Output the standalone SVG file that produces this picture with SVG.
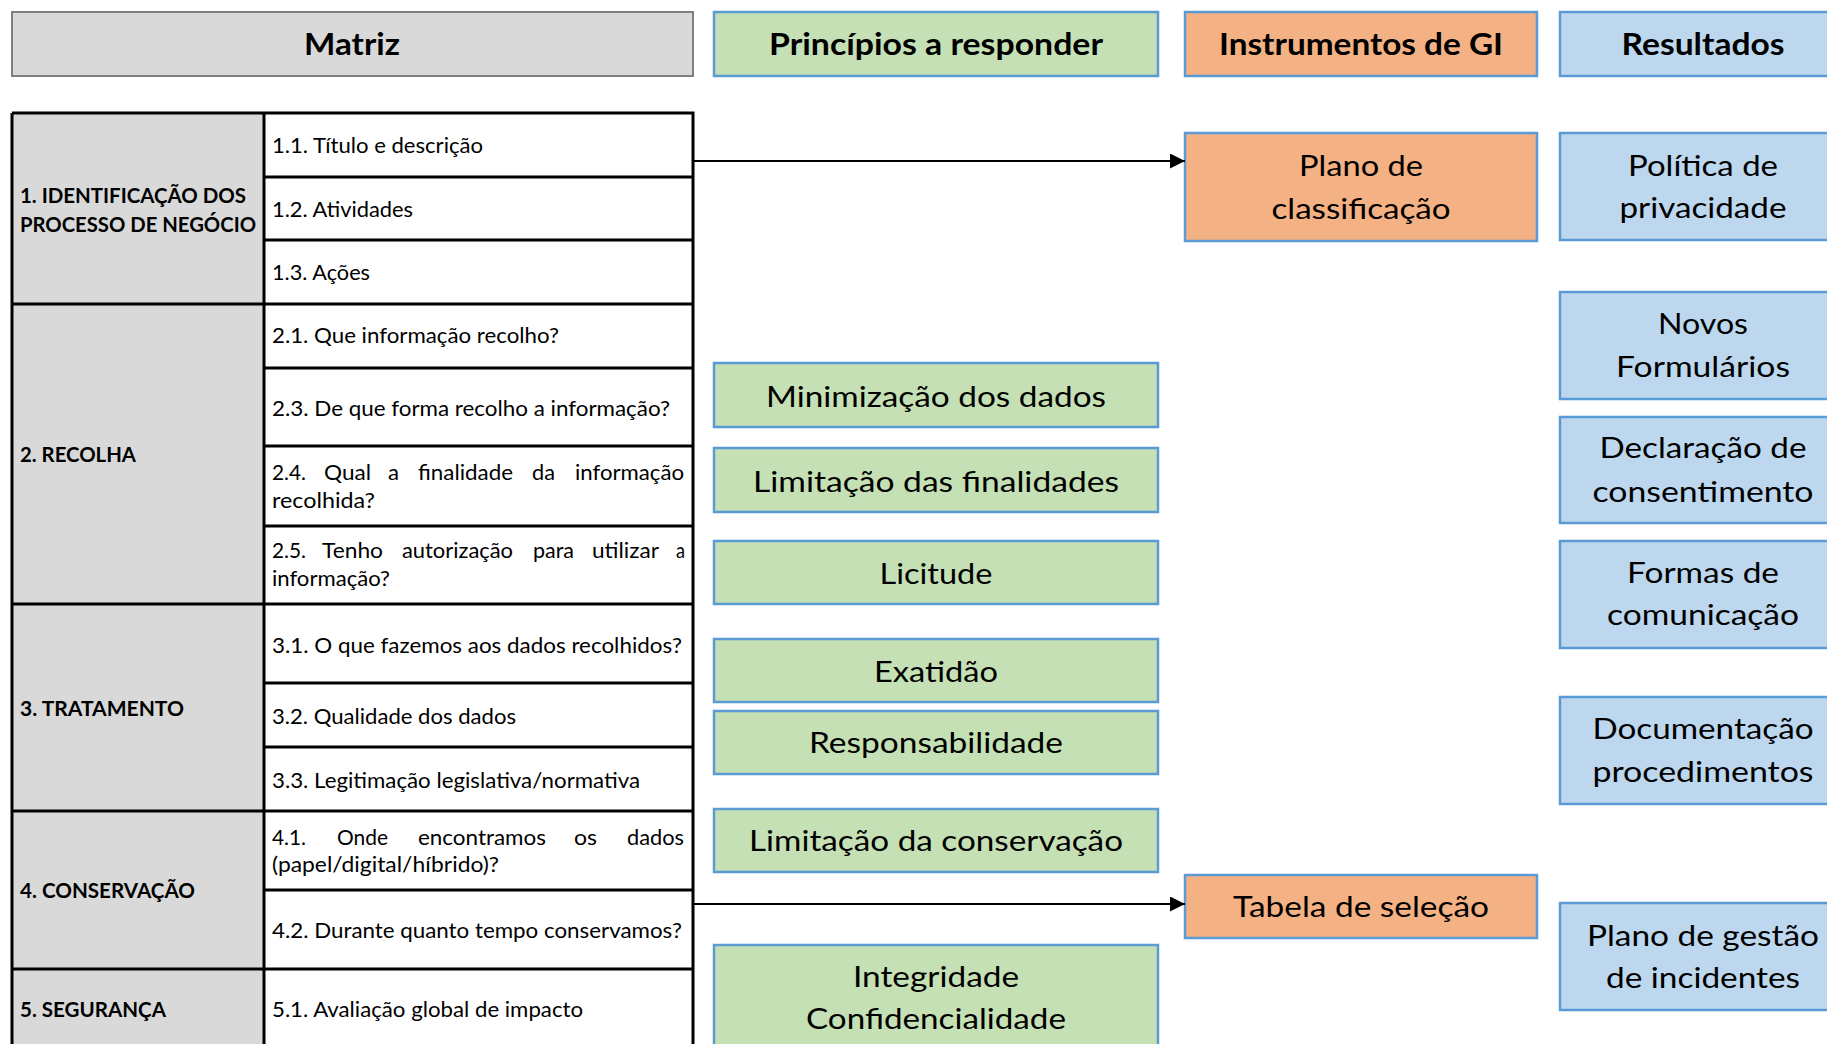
<svg xmlns="http://www.w3.org/2000/svg" width="1827" height="1044" viewBox="0 0 1827 1044">
<defs>
<style>
text{font-family:Lato,"Liberation Sans",sans-serif;fill:#000}
.h{font-weight:700;font-size:31px;text-anchor:middle}
.l{font-size:28px;text-anchor:middle}
.c{font-size:21px}
.s{font-size:20px;font-weight:700}
.gray{fill:#d9d9d9;stroke:#7f7f7f;stroke-width:2}
.green{fill:#c5e0b4;stroke:#5b9bd5;stroke-width:2.5}
.orange{fill:#f4b183;stroke:#5b9bd5;stroke-width:2.5}
.blue{fill:#bdd7ee;stroke:#5b9bd5;stroke-width:2.5}
.tl{stroke:#000;stroke-width:3;fill:none}
.conn{stroke:#000;stroke-width:2;fill:none}
</style>
<marker id="arr" viewBox="0 0 10 10" refX="10" refY="5" markerUnits="userSpaceOnUse" markerWidth="15" markerHeight="15" orient="auto">
<path d="M0,0 L10,5 L0,10 z" fill="#000"/>
</marker>
</defs>
<rect width="1827" height="1044" fill="#fff"/>

<!-- headers -->
<g id="hdr-matriz"><rect class="gray" x="12" y="12" width="681" height="64"/><text class="h" x="352" y="55" textLength="96" lengthAdjust="spacingAndGlyphs">Matriz</text></g>
<g id="hdr-principios"><rect class="green" x="714" y="12" width="444" height="64"/><text class="h" x="936" y="55" textLength="334" lengthAdjust="spacingAndGlyphs">Princípios a responder</text></g>
<g id="hdr-instrumentos"><rect class="orange" x="1185" y="12" width="352" height="64"/><text class="h" x="1361" y="55" textLength="284" lengthAdjust="spacingAndGlyphs">Instrumentos de GI</text></g>
<g id="hdr-resultados"><rect class="blue" x="1560" y="12" width="290" height="64"/><text class="h" x="1703" y="55" textLength="163" lengthAdjust="spacingAndGlyphs">Resultados</text></g>

<!-- table -->
<g id="matriz-table">
<rect x="12" y="113" width="252" height="950" fill="#d9d9d9"/>
<rect x="264" y="113" width="429" height="950" fill="#fff"/>
<g id="sec1">
<text class="s" x="20" y="203" textLength="226" lengthAdjust="spacingAndGlyphs">1. IDENTIFICAÇÃO DOS</text>
<text class="s" x="20" y="232" textLength="236" lengthAdjust="spacingAndGlyphs">PROCESSO DE NEGÓCIO</text>
<text class="c" x="272" y="153" textLength="211" lengthAdjust="spacingAndGlyphs">1.1. Título e descrição</text>
<text class="c" x="272" y="217" textLength="141" lengthAdjust="spacingAndGlyphs">1.2. Atividades</text>
<text class="c" x="272" y="280" textLength="98" lengthAdjust="spacingAndGlyphs">1.3. Ações</text>
</g>
<g id="sec2">
<text class="s" x="20" y="462" textLength="116" lengthAdjust="spacingAndGlyphs">2. RECOLHA</text>
<text class="c" x="272" y="343" textLength="287" lengthAdjust="spacingAndGlyphs">2.1. Que informação recolho?</text>
<text class="c" x="272" y="416" textLength="398" lengthAdjust="spacingAndGlyphs">2.3. De que forma recolho a informação?</text>
<text class="c" x="272" y="480" textLength="34" lengthAdjust="spacingAndGlyphs">2.4.</text>
<text class="c" x="324" y="480" textLength="47" lengthAdjust="spacingAndGlyphs">Qual</text>
<text class="c" x="388" y="480" textLength="11" lengthAdjust="spacingAndGlyphs">a</text>
<text class="c" x="418" y="480" textLength="95" lengthAdjust="spacingAndGlyphs">finalidade</text>
<text class="c" x="532" y="480" textLength="23" lengthAdjust="spacingAndGlyphs">da</text>
<text class="c" x="575" y="480" textLength="109" lengthAdjust="spacingAndGlyphs">informação</text>
<text class="c" x="272" y="508" textLength="103" lengthAdjust="spacingAndGlyphs">recolhida?</text>
<text class="c" x="272" y="558" textLength="34" lengthAdjust="spacingAndGlyphs">2.5.</text>
<text class="c" x="322" y="558" textLength="61" lengthAdjust="spacingAndGlyphs">Tenho</text>
<text class="c" x="402" y="558" textLength="111" lengthAdjust="spacingAndGlyphs">autorização</text>
<text class="c" x="533" y="558" textLength="41" lengthAdjust="spacingAndGlyphs">para</text>
<text class="c" x="592" y="558" textLength="67" lengthAdjust="spacingAndGlyphs">utilizar</text>
<text class="c" x="676" y="558" textLength="9" lengthAdjust="spacingAndGlyphs">a</text>
<text class="c" x="272" y="586" textLength="118" lengthAdjust="spacingAndGlyphs">informação?</text>
</g>
<g id="sec3">
<text class="s" x="20" y="716" textLength="164" lengthAdjust="spacingAndGlyphs">3. TRATAMENTO</text>
<text class="c" x="272" y="653" textLength="410" lengthAdjust="spacingAndGlyphs">3.1. O que fazemos aos dados recolhidos?</text>
<text class="c" x="272" y="724" textLength="244" lengthAdjust="spacingAndGlyphs">3.2. Qualidade dos dados</text>
<text class="c" x="272" y="788" textLength="368" lengthAdjust="spacingAndGlyphs">3.3. Legitimação legislativa/normativa</text>
</g>
<g id="sec4">
<text class="s" x="20" y="898" textLength="175" lengthAdjust="spacingAndGlyphs">4. CONSERVAÇÃO</text>
<text class="c" x="272" y="845" textLength="34" lengthAdjust="spacingAndGlyphs">4.1.</text>
<text class="c" x="337" y="845" textLength="51" lengthAdjust="spacingAndGlyphs">Onde</text>
<text class="c" x="418" y="845" textLength="128" lengthAdjust="spacingAndGlyphs">encontramos</text>
<text class="c" x="574" y="845" textLength="23" lengthAdjust="spacingAndGlyphs">os</text>
<text class="c" x="627" y="845" textLength="57" lengthAdjust="spacingAndGlyphs">dados</text>
<text class="c" x="272" y="872" textLength="227" lengthAdjust="spacingAndGlyphs">(papel/digital/híbrido)?</text>
<text class="c" x="272" y="938" textLength="410" lengthAdjust="spacingAndGlyphs">4.2. Durante quanto tempo conservamos?</text>
</g>
<g id="sec5">
<text class="s" x="20" y="1017" textLength="146" lengthAdjust="spacingAndGlyphs">5. SEGURANÇA</text>
<text class="c" x="272" y="1017" textLength="311" lengthAdjust="spacingAndGlyphs">5.1. Avaliação global de impacto</text>
</g>
<path class="tl" d="M12,113 H693 V1063 M12,113 V1063 M264,113 V1063 M12,304 H693 M12,604 H693 M12,811 H693 M12,969 H693 M264,177 H693 M264,240 H693 M264,368 H693 M264,446 H693 M264,526 H693 M264,683 H693 M264,747 H693 M264,890 H693"/>
</g>

<!-- principles -->
<g id="p-minimizacao"><rect class="green" x="714" y="363" width="444" height="64"/><text class="l" x="936" y="407" textLength="340" lengthAdjust="spacingAndGlyphs">Minimização dos dados</text></g>
<g id="p-finalidades"><rect class="green" x="714" y="448" width="444" height="64"/><text class="l" x="936" y="492" textLength="366" lengthAdjust="spacingAndGlyphs">Limitação das finalidades</text></g>
<g id="p-licitude"><rect class="green" x="714" y="541" width="444" height="63"/><text class="l" x="936" y="584" textLength="113" lengthAdjust="spacingAndGlyphs">Licitude</text></g>
<g id="p-exatidao"><rect class="green" x="714" y="639" width="444" height="63"/><text class="l" x="936" y="682" textLength="124" lengthAdjust="spacingAndGlyphs">Exatidão</text></g>
<g id="p-responsabilidade"><rect class="green" x="714" y="711" width="444" height="63"/><text class="l" x="936" y="753" textLength="254" lengthAdjust="spacingAndGlyphs">Responsabilidade</text></g>
<g id="p-conservacao"><rect class="green" x="714" y="809" width="444" height="63"/><text class="l" x="936" y="851" textLength="374" lengthAdjust="spacingAndGlyphs">Limitação da conservação</text></g>
<g id="p-integridade"><rect class="green" x="714" y="945" width="444" height="110"/><text class="l" x="936" y="987" textLength="166" lengthAdjust="spacingAndGlyphs">Integridade</text><text class="l" x="936" y="1029" textLength="260" lengthAdjust="spacingAndGlyphs">Confidencialidade</text></g>

<!-- instruments -->
<g id="i-plano"><rect class="orange" x="1185" y="133" width="352" height="108"/><text class="l" x="1361" y="176" textLength="124" lengthAdjust="spacingAndGlyphs">Plano de</text><text class="l" x="1361" y="219" textLength="179" lengthAdjust="spacingAndGlyphs">classificação</text></g>
<g id="i-tabela"><rect class="orange" x="1185" y="875" width="352" height="63"/><text class="l" x="1361" y="917" textLength="256" lengthAdjust="spacingAndGlyphs">Tabela de seleção</text></g>

<!-- results -->
<g id="r-politica"><rect class="blue" x="1560" y="133" width="290" height="107"/><text class="l" x="1703" y="176" textLength="150" lengthAdjust="spacingAndGlyphs">Política de</text><text class="l" x="1703" y="218" textLength="167" lengthAdjust="spacingAndGlyphs">privacidade</text></g>
<g id="r-formularios"><rect class="blue" x="1560" y="292" width="290" height="107"/><text class="l" x="1703" y="334" textLength="90" lengthAdjust="spacingAndGlyphs">Novos</text><text class="l" x="1703" y="377" textLength="174" lengthAdjust="spacingAndGlyphs">Formulários</text></g>
<g id="r-declaracao"><rect class="blue" x="1560" y="417" width="290" height="106"/><text class="l" x="1703" y="458" textLength="207" lengthAdjust="spacingAndGlyphs">Declaração de</text><text class="l" x="1703" y="502" textLength="221" lengthAdjust="spacingAndGlyphs">consentimento</text></g>
<g id="r-formas"><rect class="blue" x="1560" y="541" width="290" height="107"/><text class="l" x="1703" y="583" textLength="152" lengthAdjust="spacingAndGlyphs">Formas de</text><text class="l" x="1703" y="625" textLength="192" lengthAdjust="spacingAndGlyphs">comunicação</text></g>
<g id="r-documentacao"><rect class="blue" x="1560" y="697" width="290" height="107"/><text class="l" x="1703" y="739" textLength="221" lengthAdjust="spacingAndGlyphs">Documentação</text><text class="l" x="1703" y="782" textLength="221" lengthAdjust="spacingAndGlyphs">procedimentos</text></g>
<g id="r-incidentes"><rect class="blue" x="1560" y="903" width="290" height="107"/><text class="l" x="1703" y="946" textLength="232" lengthAdjust="spacingAndGlyphs">Plano de gestão</text><text class="l" x="1703" y="988" textLength="194" lengthAdjust="spacingAndGlyphs">de incidentes</text></g>

<!-- connectors -->
<g id="connectors">
<line class="conn" x1="693" y1="161" x2="1185" y2="161" marker-end="url(#arr)"/>
<line class="conn" x1="693" y1="904" x2="1185" y2="904" marker-end="url(#arr)"/>
</g>
</svg>
